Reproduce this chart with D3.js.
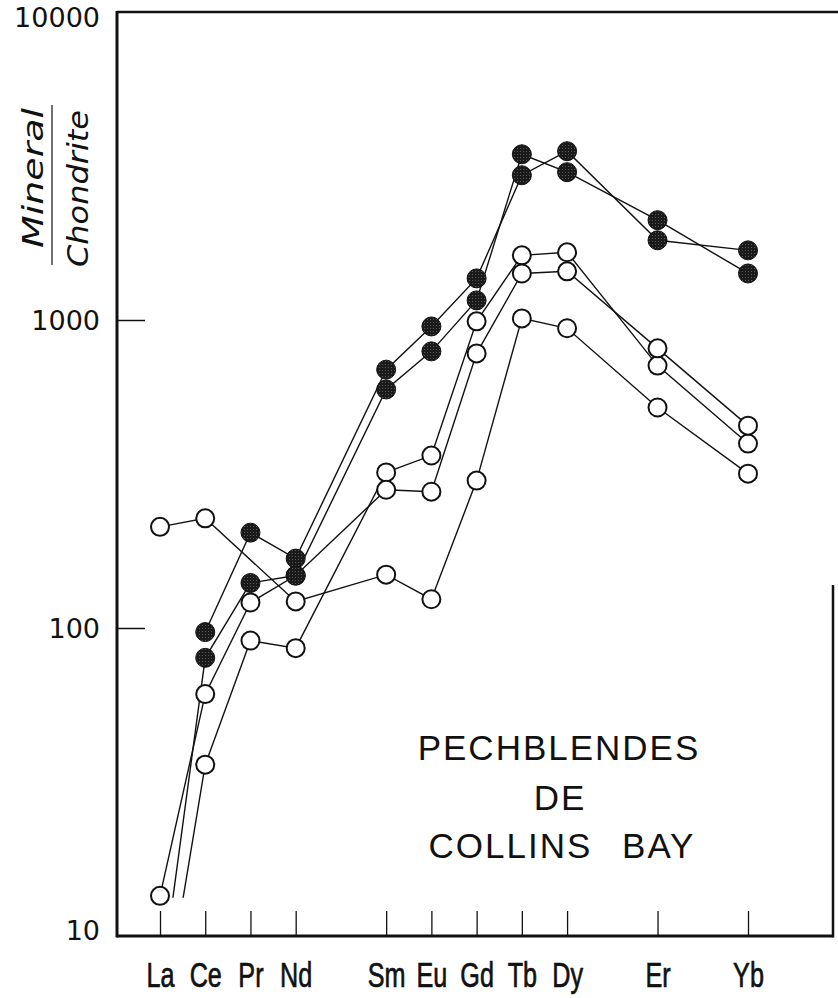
<!DOCTYPE html>
<html>
<head>
<meta charset="utf-8">
<script src="https://cdn.jsdelivr.net/npm/d3@7"></script>
<style>
  html, body { margin: 0; padding: 0; background: #fff; }
  svg { display: block; }
</style>
</head>
<body>
<svg id="chart" width="838" height="998"></svg>
<script>
// Rare-earth elements on the x axis, placed by atomic number
const elements = ["La", "Ce", "Pr", "Nd", "Sm", "Eu", "Gd", "Tb", "Dy", "Er", "Yb"];
const atomicNumbers = [57, 58, 59, 60, 62, 63, 64, 65, 66, 68, 70];

// Mineral / chondrite ratios for each sample (null = not measured)
const filledA = [null, 97, 204, 168, 690, 953, 1365, 2951, 3532, 1815, 1683];
const filledB = [6.5, 80, 140, 148, 595, 791, 1158, 3452, 3020, 2109, 1416];
const openA   = [213, 227, null, 122, 149, 124, 301, 1012, 940, 520, 317];
const openB   = [4.7, 36, 91, 86, 320, 363, 990, 1622, 1659, 711, 397];
const openC   = [13.5, 61, 121, 148, 281, 277, 779, 1416, 1439, 809, 454];

const yTickValues = [10, 100, 1000, 10000];
const yTickMarks = [100, 1000];
const lineFloor = 13.3;   // profiles are not drawn below this ratio

const series = [
  { values: openA,   filled: false },
  { values: openB,   filled: false },
  { values: openC,   filled: false },
  { values: filledA, filled: true },
  { values: filledB, filled: true }
];

const svg = d3.select("#chart");
const plot = { left: 117, right: 833, top: 12, bottom: 936 };

const x = d3.scaleLinear().domain([57, 70]).range([160, 748]);
const y = d3.scaleLog().domain([10, 10000]).range([plot.bottom, plot.top]);

// halftone fill for the solid markers
const defs = svg.append("defs");
const pat = defs.append("pattern")
  .attr("id", "halftone").attr("patternUnits", "userSpaceOnUse")
  .attr("width", 3).attr("height", 3);
pat.append("rect").attr("width", 3).attr("height", 3).attr("fill", "#1a1a1a");
pat.append("circle").attr("cx", 1.5).attr("cy", 1.5).attr("r", 0.5).attr("fill", "#6e6e6e");

defs.append("clipPath").attr("id", "plotClip")
  .append("rect")
  .attr("x", plot.left).attr("y", plot.top)
  .attr("width", plot.right - plot.left)
  .attr("height", y(lineFloor) - plot.top);

// frame
const frame = svg.append("g").attr("stroke", "#111").attr("fill", "none");
frame.append("line").attr("x1", plot.left).attr("x2", 838).attr("y1", plot.top).attr("y2", plot.top).attr("stroke-width", 2.5);
frame.append("line").attr("x1", plot.left).attr("x2", plot.left).attr("y1", plot.top - 1).attr("y2", plot.bottom + 1.5).attr("stroke-width", 3);
frame.append("line").attr("x1", plot.left).attr("x2", plot.right).attr("y1", plot.bottom).attr("y2", plot.bottom).attr("stroke-width", 3);
frame.append("line").attr("x1", plot.right).attr("x2", plot.right).attr("y1", 585).attr("y2", plot.bottom + 1.5).attr("stroke-width", 2.5);

// x axis: ticks rising from the bottom edge, condensed element labels
const xAxis = d3.axisBottom(x)
  .tickValues(atomicNumbers)
  .tickSize(-25)
  .tickPadding(0)
  .tickFormat((d, i) => elements[i]);
const gx = svg.append("g").attr("transform", `translate(0,${plot.bottom})`).call(xAxis);
gx.select(".domain").remove();
gx.selectAll(".tick line").attr("stroke", "#111").attr("stroke-width", 1.3);
gx.selectAll(".tick text")
  .attr("y", 51).attr("dy", 0)
  .attr("transform", "scale(0.72,1)")
  .attr("fill", "#111")
  .attr("stroke", "#111").attr("stroke-width", 0.7)
  .style("font-family", "'Liberation Sans', Arial, sans-serif")
  .style("font-size", "35px");

// y axis: decade labels, inner ticks at 100 and 1000
const yAxis = d3.axisLeft(y)
  .tickValues(yTickValues)
  .tickSize(-28)
  .tickPadding(17)
  .tickFormat(d3.format("d"));
const gy = svg.append("g").attr("transform", `translate(${plot.left},0)`).call(yAxis);
gy.select(".domain").remove();
gy.selectAll(".tick line")
  .attr("stroke", "#111").attr("stroke-width", 1.5)
  .attr("display", d => yTickMarks.includes(d) ? null : "none");
gy.selectAll(".tick text")
  .attr("fill", "#111")
  .attr("dy", d => d === 10000 ? "0.55em" : d === 10 ? "0.12em" : "0.35em")
  .style("font-family", "'DejaVu Sans', sans-serif")
  .style("font-size", "27px");

// y axis title: Mineral over Chondrite
const title = svg.append("g").attr("fill", "#111")
  .style("font-family", "'DejaVu Sans', sans-serif")
  .style("font-style", "italic")
  .style("font-size", "28px");
title.append("text")
  .attr("transform", "translate(43,248) rotate(-90)")
  .attr("textLength", 140).attr("lengthAdjust", "spacingAndGlyphs")
  .text("Mineral");
title.append("text")
  .attr("transform", "translate(88,267) rotate(-90)")
  .attr("textLength", 157).attr("lengthAdjust", "spacingAndGlyphs")
  .text("Chondrite");
svg.append("line")
  .attr("x1", 52).attr("x2", 52).attr("y1", 105).attr("y2", 265)
  .attr("stroke", "#111").attr("stroke-width", 1.2);

// profiles
const points = s => s.values
  .map((v, i) => ({ z: atomicNumbers[i], v }))
  .filter(d => d.v != null);

const line = d3.line().x(d => x(d.z)).y(d => y(d.v));

svg.append("g").attr("clip-path", "url(#plotClip)")
  .selectAll("path").data(series).join("path")
  .attr("d", s => line(points(s)))
  .attr("fill", "none").attr("stroke", "#111").attr("stroke-width", 1.4);

// markers: open first, solid on top
const markerData = s => points(s).filter(d => d.v >= 10);
const orderSeries = series.filter(s => !s.filled).concat(series.filter(s => s.filled));
orderSeries.forEach(s => {
  svg.append("g").selectAll("circle").data(markerData(s)).join("circle")
    .attr("cx", d => x(d.z)).attr("cy", d => y(d.v))
    .attr("r", s.filled ? 9.5 : 9)
    .attr("fill", s.filled ? "url(#halftone)" : "#fff")
    .attr("stroke", "#111")
    .attr("stroke-width", s.filled ? 1 : 2);
});

// caption inside the plot
const cap = svg.append("g").attr("fill", "#111")
  .attr("text-anchor", "middle")
  .style("font-family", "'Liberation Sans', Arial, sans-serif")
  .style("font-size", "35px")
  .style("letter-spacing", "2px");
cap.append("text").attr("x", 559).attr("y", 760).text("PECHBLENDES");
cap.append("text").attr("x", 560).attr("y", 810).text("DE");
cap.append("text").attr("x", 562).attr("y", 858).style("word-spacing", "18px").text("COLLINS BAY");
</script>
</body>
</html>
